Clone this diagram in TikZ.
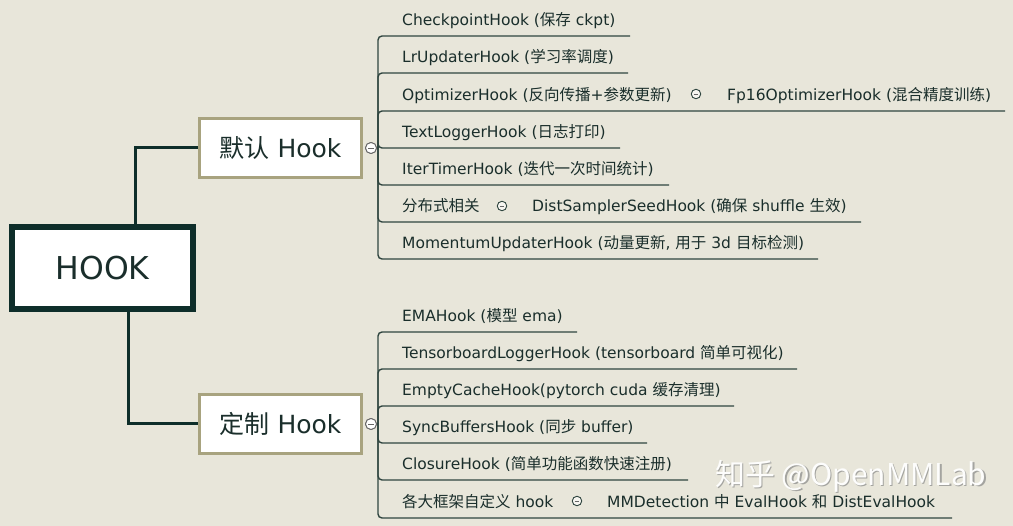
\documentclass[tikz,border=0pt]{standalone}
\usepackage{fontspec}
\setmainfont{DejaVu Sans}
\newfontfamily\cjk{Noto Sans CJK SC}
\definecolor{bg}{HTML}{E8E6DA}
\definecolor{dark}{HTML}{0E2E2A}
\definecolor{khaki}{HTML}{A8A37F}
\definecolor{brline}{HTML}{2F453F}
\definecolor{txt}{HTML}{1A2E2B}
\definecolor{wmshadow}{HTML}{A4A4A0}
\begin{document}
\begin{tikzpicture}[x=1pt,y=-1pt,
  rootbox/.style={draw=dark, line width=6pt, fill=white, minimum width=181pt, minimum height=82pt, inner sep=0pt, text=txt, font=\fontsize{31.5}{36}\selectfont},
  subbox/.style={draw=khaki, line width=3pt, fill=white, minimum width=162pt, minimum height=59pt, inner sep=0pt, text=txt, font=\fontsize{25}{29}\selectfont},
  conn/.style={draw=dark, line width=3pt, miter limit=10},
  branch/.style={draw=brline, line width=1.4pt, rounded corners=4pt},
  item/.style={anchor=base west, inner sep=0pt, text=txt, font=\fontsize{15.5}{18}\selectfont},
  bigc/.style={circle, draw=gray!80!black, fill=white, line width=0.9pt, minimum size=11pt, inner sep=0pt,
    path picture={\draw[gray!80!black, line width=0.8pt] ([xshift=-3pt]path picture bounding box.center) -- ([xshift=3pt]path picture bounding box.center);}},
  smallc/.style={circle, draw=brline, fill=white!60!bg, line width=0.9pt, minimum size=9.5pt, inner sep=0pt,
    path picture={\draw[gray!80!black, line width=0.7pt] ([xshift=-2.3pt]path picture bounding box.center) -- ([xshift=2.3pt]path picture bounding box.center);}},
  wm/.style={inner sep=0pt, font=\cjk\fontsize{30}{34}\selectfont}
]
\useasboundingbox (0,0) rectangle (1013,526);
\fill[bg] (0,0) rectangle (1013,526);

% root and level-2 boxes
\node[rootbox] (hook) at (102.5,268) {HOOK};
\node[subbox] (def) at (280.5,148) {{\cjk 默认} Hook};
\node[subbox] (cus) at (280.5,424) {{\cjk 定制} Hook};

\draw[conn] ([xshift=32.5pt]hook.north) |- (def.west);
\draw[conn] ([xshift=25.5pt]hook.south) |- (cus.west);

% ---------- default group ----------
\coordinate (dj) at (378,148);
\coordinate (dl1) at (630,36);
\coordinate (dl2) at (628,73);
\coordinate (dl3) at (1005,111);
\coordinate (dl4) at (620,148);
\coordinate (dl5) at (669,185);
\coordinate (dl6) at (861,222);
\coordinate (dl7) at (818,259);
\node[bigc] (dcirc) at (371,148) {};
\foreach \i in {1,...,7} {\draw[branch] (dj) |- (dl\i);}
\draw[branch] (dcirc.east) -- (dj);
\node[bigc] at (371,148) {};

\node[item] (d1) at (402,26) {CheckpointHook ({\cjk 保存} ckpt)};
\node[item] (d2) at (402,63) {LrUpdaterHook ({\cjk 学习率调度})};
\node[item] (d3) at (402,101) {OptimizerHook ({\cjk 反向传播}+{\cjk 参数更新})};
\node[smallc] (d3c) at (696,94) {};
\node[item] (d3b) at (727,101) {Fp16OptimizerHook ({\cjk 混合精度训练})};
\node[item] (d4) at (402,138) {TextLoggerHook ({\cjk 日志打印})};
\node[item] (d5) at (402,175) {IterTimerHook ({\cjk 迭代一次时间统计})};
\node[item] (d6) at (402,212) {{\cjk 分布式相关}};
\node[smallc] (d6c) at (502,206) {};
\node[item] (d6b) at (532,212) {DistSamplerSeedHook ({\cjk 确保} shuffle {\cjk 生效})};
\node[item] (d7) at (402,249) {MomentumUpdaterHook ({\cjk 动量更新}, {\cjk 用于} 3d {\cjk 目标检测})};

% ---------- custom group ----------
\coordinate (cj) at (378,424);
\coordinate (cl1) at (577,332);
\coordinate (cl2) at (797,369);
\coordinate (cl3) at (734,406);
\coordinate (cl4) at (647,443);
\coordinate (cl5) at (688,480);
\coordinate (cl6) at (952,518);
\node[bigc] (ccirc) at (371,424) {};
\foreach \i in {1,...,6} {\draw[branch] (cj) |- (cl\i);}
\draw[branch] (ccirc.east) -- (cj);
\node[bigc] at (371,424) {};

\node[item] (c1) at (402,322) {EMAHook ({\cjk 模型} ema)};
\node[item] (c2) at (402,359) {TensorboardLoggerHook (tensorboard {\cjk 简单可视化})};
\node[item] (c3) at (402,396) {EmptyCacheHook(pytorch cuda {\cjk 缓存清理})};
\node[item] (c4) at (402,433) {SyncBuffersHook ({\cjk 同步} buffer)};
\node[item] (c5) at (402,470) {ClosureHook ({\cjk 简单功能函数快速注册})};
\node[item] (c6) at (402,508) {{\cjk 各大框架自定义} hook};
\node[smallc] (c6c) at (577,501) {};
\node[item] (c6b) at (607,508) {MMDetection {\cjk 中} EvalHook {\cjk 和} DistEvalHook};

% watermark
\node[wm, text=wmshadow, anchor=west] at (716.2,477.2) {知乎 @OpenMMLab};
\node[wm, text=white!92!bg, anchor=west] (wmark) at (715,476) {知乎 @OpenMMLab};
\end{tikzpicture}
\end{document}
